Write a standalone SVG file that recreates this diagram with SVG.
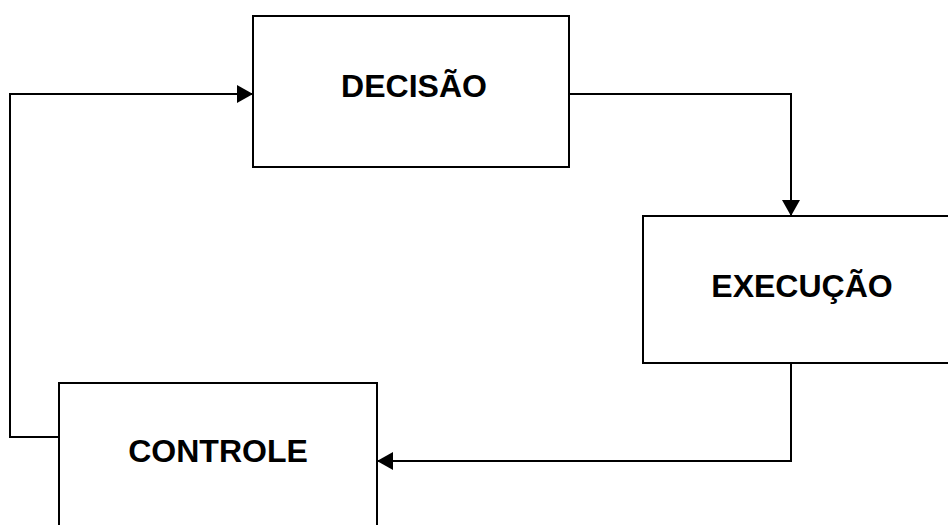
<svg xmlns="http://www.w3.org/2000/svg" width="948" height="525" viewBox="0 0 948 525">
  <style>
    .box { fill: #ffffff; stroke: #000000; stroke-width: 2; }
    .label { font-family: "Liberation Sans", Arial, sans-serif; font-weight: bold; font-size: 32px; fill: #000000; text-anchor: middle; }
    .link { fill: none; stroke: #000000; stroke-width: 2; }
  </style>
  <defs>
    <marker id="arrow" viewBox="0 0 16 18" refX="16" refY="9" markerWidth="16" markerHeight="18" markerUnits="userSpaceOnUse" orient="auto">
      <path d="M0,0 L16,9 L0,18 Z" fill="#000000"/>
    </marker>
  </defs>

  <g id="connectors">
    <!-- DECISÃO -> EXECUÇÃO -->
    <polyline class="link" points="569,94 791,94 791,216" marker-end="url(#arrow)"/>
    <!-- EXECUÇÃO -> CONTROLE -->
    <polyline class="link" points="791,363 791,461 377,461" marker-end="url(#arrow)"/>
    <!-- CONTROLE -> DECISÃO -->
    <polyline class="link" points="59,437 10,437 10,94 253,94" marker-end="url(#arrow)"/>
  </g>

  <g id="decisao">
    <rect class="box" x="253" y="16" width="316" height="151"/>
    <text class="label" x="414" y="97">DECISÃO</text>
  </g>

  <g id="execucao">
    <rect class="box" x="643" y="216" width="310" height="147"/>
    <text class="label" x="802" y="297">EXECUÇÃO</text>
  </g>

  <g id="controle">
    <rect class="box" x="59" y="383" width="318" height="150"/>
    <text class="label" x="218" y="462">CONTROLE</text>
  </g>
</svg>
